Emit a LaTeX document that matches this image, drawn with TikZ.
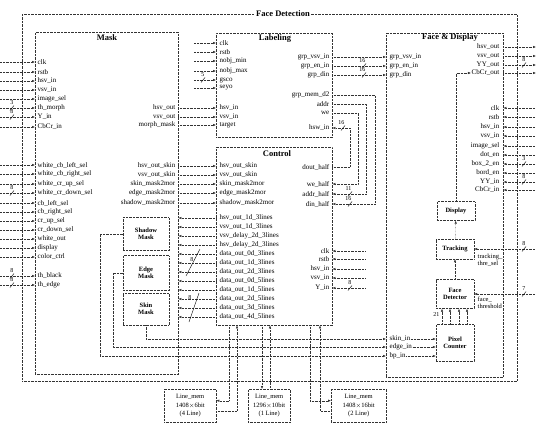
\documentclass[tikz,border=0pt]{standalone}
\usepackage{fontspec}
\setmainfont{Liberation Serif}
\usetikzlibrary{positioning,arrows.meta}

\tikzset{
  blk/.style={draw=black!80, densely dotted, inner sep=0pt, anchor=north west},
  subblk/.style={draw=black!80, densely dotted, align=center, inner sep=1pt, minimum width=38pt,
    font=\fontsize{6.5}{7.5}\selectfont\bfseries},
  membox/.style={draw=black!80, densely dotted, align=center, inner sep=1pt, anchor=north west,
    font=\fontsize{6.5}{8.5}\selectfont},
  ttl/.style={font=\fontsize{8.5}{8.5}\selectfont\bfseries, inner sep=1pt},
  pl/.style={anchor=west, inner sep=0.5pt, font=\fontsize{7}{7}\selectfont},
  pr/.style={anchor=east, inner sep=0.5pt, font=\fontsize{7}{7}\selectfont},
  sig/.style={draw=black!80, densely dotted, -{Latex[length=3pt,width=2.4pt]}},
  wire/.style={draw=black!80, densely dotted},
  bw/.style={font=\fontsize{6}{6}\selectfont, inner sep=0.5pt},
}
% bus width mark: slash across a wire, width written beside it
\newcommand{\busw}[2]{\draw (#1) ++(-2,2.5) -- ++(4,-5) node[bw, anchor=south east] {#2};}

\begin{document}
\begin{tikzpicture}[x=1pt,y=1pt,yscale=-1]
\useasboundingbox (0,0) rectangle (536,423);
\coordinate (edgeL) at (0,0);
\coordinate (edgeR) at (536,0);
\coordinate (labin) at (194,0);
\coordinate (ctlin) at (365,0);
\coordinate (sxL) at (12,0);
\coordinate (sxR) at (524,0);

% Blocks
\node[blk, minimum width=495pt, minimum height=367pt] (frame) at (22,14) {};
\node[ttl, fill=white] (frameT) at (283,14) {Face Detection};
\node[blk, minimum width=143pt, minimum height=342pt] (mask) at (35,32) {};
\node[ttl] (maskT) at (107,38) {Mask};
\node[blk, minimum width=116pt, minimum height=104pt] (lab) at (216,33) {};
\node[ttl] (labT) at (275,38) {Labeling};
\node[blk, minimum width=116pt, minimum height=178pt] (ctrl) at (216,147) {};
\node[ttl] (ctrlT) at (277,154) {Control};
\node[blk, minimum width=117pt, minimum height=344pt] (fd) at (386,33) {};
\node[ttl] (fdT) at (450,37.5) {Face \& Display};

% Mask sub blocks
\node[subblk, minimum width=46pt, minimum height=33pt] (shad) at (146,234) {Shadow\\Mask};
\node[subblk, minimum width=46pt, minimum height=35pt] (edge) at (146,273) {Edge\\Mask};
\node[subblk, minimum width=46pt, minimum height=32pt] (skin) at (146,309) {Skin\\Mask};

% Face & Display sub blocks
\node[subblk, minimum height=19pt] (disp) at (456,211) {Display};
\node[subblk, minimum height=20pt] (trk) at (455,249) {Tracking};
\node[subblk, minimum height=29pt] (fdet) at (455,294) {Face\\Detector};
\node[subblk, minimum height=37pt] (pc) at (455,343) {Pixel\\Counter};

% Line memories
\node[membox, minimum width=52pt, minimum height=33pt] (lm1) at (164,389) {Line\_mem\\1408$\times$6bit\\(4 Line)};
\node[membox, minimum width=42pt, minimum height=33pt] (lm2) at (248,389) {Line\_mem\\1296$\times$10bit\\(1 Line)};
\node[membox, minimum width=55pt, minimum height=33pt] (lm3) at (331,389) {Line\_mem\\1408$\times$16bit\\(2 Line)};

% Mask inputs
\foreach \y/\t [count=\i] in {62/clk, 72/rstb, 81/hsv\_in, 90/vsv\_in, 99/image\_sel,
    108/th\_morph, 117/Y\_in, 127/CbCr\_in, 165/white\_cb\_left\_sel, 174/white\_cb\_right\_sel,
    184/white\_cr\_up\_sel, 193/white\_cr\_down\_sel, 203/cb\_left\_sel, 212/cb\_right\_sel,
    221/cr\_up\_sel, 230/cr\_down\_sel, 239/white\_out, 248/display, 257/color\_ctrl,
    276/th\_black, 285/th\_edge}{
  \node[pl] (mi\i) at (37,\y) {\t};
  \draw[sig] (mi\i.west -| edgeL) -- (mi\i.west -| mask.west);
}
\busw{mi6.west -| sxL}{3}
\busw{mi7.west -| sxL}{8}
\busw{mi12.west -| sxL}{8}
\busw{mi20.west -| sxL}{8}
\busw{mi21.west -| sxL}{8}

% Mask -> Labeling
\foreach \y/\a/\b [count=\i] in {108/hsv\_out/hsv\_in, 117/vsv\_out/vsv\_in, 125/morph\_mask/target}{
  \node[pr] (mo\i) at (176,\y) {\a};
  \node[pl] (li\i) at (219,\y) {\b};
  \draw[sig] (mo\i.east -| mask.east) -- (li\i.west -| lab.west);
}

% Labeling inputs
\foreach \y/\t [count=\i] in {43/clk, 52/rstb, 61/nobj\_min, 71/nobj\_max, 80/gsco, 88/seyo}{
  \node[pl] (lc\i) at (219,\y) {\t};
  \draw[sig] (lc\i.west -| labin) -- (lc\i.west -| lab.west);
}
\coordinate (sxLab) at (203,0);
\busw{lc5.west -| sxLab}{5}

% Labeling -> Face & Display
\foreach \y/\t [count=\i] in {57/grp\_vsv\_in, 66/grp\_en\_in, 75/grp\_din}{
  \node[pr] (lo\i) at (330,\y) {\t};
  \node[pl] (fg\i) at (389,\y) {\t};
  \draw[sig] (lo\i.east -| lab.east) -- (fg\i.west -| fd.west);
}
\coordinate (sxG) at (364,0);
\busw{lo2.east -| sxG}{16}
\busw{lo3.east -| sxG}{16}

% Labeling <-> Control half memory
\node[pr] (lmd) at (330,95) {grp\_mem\_d2};
\node[pr] (lad) at (330,104) {addr};
\node[pr] (lwe) at (330,113) {we};
\node[pr] (lhi) at (330,128) {hsw\_in};
\node[pr] (cdo) at (330,167) {dout\_half};
\node[pr] (cwe) at (330,184) {we\_half};
\node[pr] (cad) at (330,194) {addr\_half};
\node[pr] (cdi) at (330,204) {din\_half};
\coordinate (xd) at (350,0);
\coordinate (xw) at (358,0);
\coordinate (xa) at (366,0);
\coordinate (xm) at (375,0);
\draw[sig] (cdo.east -| ctrl.east) -- (cdo.east -| xd) -- (lhi.east -| xd) -- (lhi.east -| lab.east);
\draw[sig] (lwe.east -| lab.east) -- (lwe.east -| xw) -- (cwe.east -| xw) -- (cwe.east -| ctrl.east);
\draw[sig] (lad.east -| lab.east) -- (lad.east -| xa) -- (cad.east -| xa) -- (cad.east -| ctrl.east);
\draw[sig] (lmd.east -| lab.east) -- (lmd.east -| xm) -- (cdi.east -| xm) -- (cdi.east -| ctrl.east);
\coordinate (sxH) at (343,0);
\busw{lhi.east -| sxH}{16}
\coordinate (sxC) at (350,0);
\busw{cad.east -| sxC}{11}
\busw{cdi.east -| sxC}{16}

% Control inputs on the right
\foreach \y/\t [count=\i] in {251/clk, 259/rstb, 269/hsv\_in, 278/vsv\_in, 288/Y\_in}{
  \node[pr] (cc\i) at (330,\y) {\t};
  \draw[sig] (cc\i.east -| ctlin) -- (cc\i.east -| ctrl.east);
}
\busw{cc5.east -| sxC}{8}

% Mask -> Control
\foreach \y/\t [count=\i] in {166/hsv\_out\_skin, 175/vsv\_out\_skin, 184/skin\_mask2mor,
    193/edge\_mask2mor, 203/shadow\_mask2mor}{
  \node[pr] (ms\i) at (176,\y) {\t};
  \node[pl] (cs\i) at (219,\y) {\t};
  \draw[sig] (ms\i.east -| mask.east) -- (cs\i.west -| ctrl.west);
}

% Control -> Mask
\foreach \y/\t [count=\i] in {218/hsv\_out\_1d\_3lines, 227/vsv\_out\_1d\_3lines,
    236/vsv\_delay\_2d\_3lines, 245/hsv\_delay\_2d\_3lines, 254/data\_out\_0d\_3lines,
    263/data\_out\_1d\_3lines, 272/data\_out\_2d\_3lines, 281/data\_out\_0d\_5lines,
    290/data\_out\_1d\_5lines, 299/data\_out\_2d\_5lines, 308/data\_out\_3d\_5lines,
    317/data\_out\_4d\_5lines}{
  \node[pl] (co\i) at (219,\y) {\t};
  \draw[sig] (co\i.west -| ctrl.west) -- (co\i.west -| mask.east);
}
\draw (186,276) -- (200,249) node[bw, anchor=east] at (194,260) {8};
\draw (189,322) -- (199,293) node[bw, anchor=east] at (192,298) {8};

% Face & Display outputs
\foreach \y/\t [count=\i] in {47/hsv\_out, 56/vsv\_out, 65/YY\_out, 73/CbCr\_out}{
  \node[pr] (fo\i) at (500,\y) {\t};
  \draw[sig] (fo\i.east -| fd.east) -- (fo\i.east -| edgeR);
}
\busw{fo3.east -| sxR}{8}

% Face & Display inputs
\foreach \y/\t [count=\i] in {108/clk, 117/rstb, 127/hsv\_in, 136/vsv\_in, 146/image\_sel,
    155/dot\_en, 164/box\_2\_en, 173/bord\_en, 182/YY\_in, 190/CbCr\_in}{
  \node[pr] (fi\i) at (500,\y) {\t};
  \draw[sig] (fi\i.east -| edgeR) -- (fi\i.east -| fd.east);
}
\busw{fi7.east -| sxR}{3}
\busw{fi9.east -| sxR}{8}

% Face & Display inner path
\draw[sig] (disp.north) |- (fo4.west);
\draw[sig] (trk) -- (disp);
\draw[sig] (fdet) -- (trk);
\foreach \dx in {-13,-5,4,12}{
  \draw[sig] ([xshift=\dx pt]pc.north) -- ([xshift=\dx pt]fdet.south);
}
\node[bw, anchor=east] (pcw) at (440,315) {21};

\node[pl, align=left, font=\fontsize{6.5}{7}\selectfont] (trkth) at (477,260) {tracking\_\\thre\_sel};
\draw[sig] (trk.east -| edgeR) -- (trk.east);
\busw{trk.east -| sxR}{8}
\node[pl, align=left, font=\fontsize{6.5}{7}\selectfont] (fdth) at (477,303) {face\_\\threshold};
\draw[sig] (fdet.east -| edgeR) -- (fdet.east);
\busw{fdet.east -| sxR}{7}

% Mask sub blocks -> Pixel Counter
\node[pl] (fsk) at (389,339) {skin\_in};
\node[pl] (fed) at (389,347) {edge\_in};
\node[pl] (fbp) at (389,356) {bp\_in};
\draw[sig] (skin.south) |- (fsk.west -| fd.west);
\draw[sig] (edge.west) -- ++(-10,0) |- (fed.west -| fd.west);
\draw[sig] (shad.west) -- ++(-23,0) |- (fbp.west -| fd.west);
\draw[sig] (fsk.east) -- (fsk.east -| pc.west);
\draw[sig] (fed.east) -- (fed.east -| pc.west);
\draw[sig] (fbp.east) -- (fbp.east -| pc.west);

% Control <-> line memories
\coordinate (x1a) at (229,0);
\coordinate (x1b) at (237,0);
\coordinate (x2a) at (262,0);
\coordinate (x2b) at (270,0);
\coordinate (x3a) at (310,0);
\coordinate (x3b) at (320,0);
\draw[sig] (ctrl.south -| x1a) |- ([yshift=-5pt]lm1.east);
\draw[sig] ([yshift=5pt]lm1.east) -| (ctrl.south -| x1b);
\draw[sig] (ctrl.south -| x2a) -- (lm2.north -| x2a);
\draw[sig] (lm2.north -| x2b) -- (ctrl.south -| x2b);
\draw[sig] (ctrl.south -| x3a) |- ([yshift=-5pt]lm3.west);
\draw[sig] ([yshift=5pt]lm3.west) -| (ctrl.south -| x3b);
\end{tikzpicture}
\end{document}
